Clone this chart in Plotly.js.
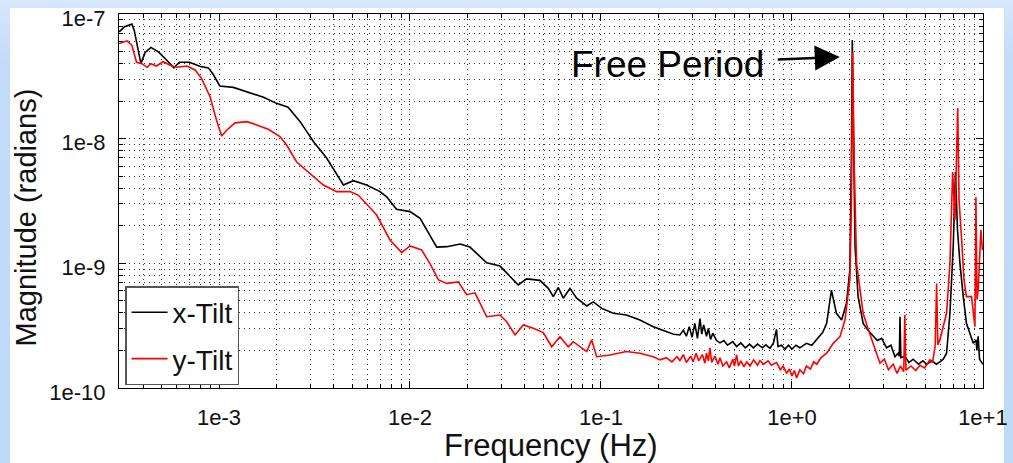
<!DOCTYPE html>
<html>
<head>
<meta charset="utf-8">
<script src="https://cdn.plot.ly/plotly-3.0.1.min.js"></script>
<style>
  html, body { margin:0; padding:0; width:1013px; height:463px; overflow:hidden;
    background: linear-gradient(to bottom, #d6e8fc 0px, #c3dbf9 60px, #bfd9f9 463px); }
  #panel { position:absolute; left:10px; top:8px; width:994px; height:455px; background:#fff; }
  #chart { position:absolute; left:10px; top:0px; width:1003px; height:463px; }
</style>
</head>
<body>
<div id="panel"></div>
<div id="chart"></div>
<script>
// x-Tilt (black)
const xTiltFreq = [3.0e-4,3.2e-4,3.5e-4,3.6e-4,3.9e-4,4.1e-4,4.4e-4,4.8e-4,5.3e-4,5.8e-4,6.2e-4,7.0e-4,8.0e-4,8.8e-4,9.3e-4,
  1.01e-3,1.19e-3,1.40e-3,1.71e-3,2.0e-3,2.3e-3,2.66e-3,3.12e-3,3.66e-3,4.48e-3,5.05e-3,5.93e-3,6.97e-3,7.55e-3,8.5e-3,
  1.0e-2,1.13e-2,1.25e-2,1.38e-2,1.56e-2,1.83e-2,2.06e-2,2.52e-2,2.96e-2,3.41e-2,3.69e-2,4.08e-2,4.79e-2,5.3e-2,5.63e-2,5.98e-2,6.35e-2,6.88e-2,7.46e-2,8.42e-2,9.12e-2,
  1.01e-1,1.16e-1,1.36e-1,1.6e-1,1.88e-1,2.21e-1,2.4e-1,2.59e-1,2.7e-1,2.8e-1,2.9e-1,3.0e-1,3.1e-1,3.2e-1,3.3e-1,3.37e-1,3.45e-1,3.57e-1,3.65e-1,3.75e-1,3.85e-1,4.03e-1,4.2e-1,4.4e-1,4.6e-1,4.9e-1,5.13e-1,5.4e-1,5.7e-1,6.0e-1,6.28e-1,6.6e-1,7.0e-1,7.3e-1,7.67e-1,8.0e-1,8.3e-1,8.45e-1,8.8e-1,9.2e-1,9.6e-1,
  1.0,1.05,1.1,1.19,1.27,1.37,1.45,1.52,1.61,1.71,1.82,1.93,2.01,2.05,2.07,2.10,2.14,2.22,2.36,2.5,2.66,2.8,2.95,3.13,3.3,3.46,3.6,3.65,3.68,3.72,3.9,4.1,4.31,4.6,4.85,5.08,5.4,5.7,5.95,6.2,6.45,6.72,6.99,7.18,7.36,7.58,7.89,8.2,8.9,9.2,9.3,9.44,9.6,9.86,10];
const xTiltMag = [7.2e-8,7.9e-8,8.3e-8,7.4e-8,4.0e-8,4.9e-8,5.4e-8,5.0e-8,4.3e-8,3.7e-8,4.1e-8,4.1e-8,3.8e-8,3.7e-8,3.3e-8,
  2.65e-8,2.58e-8,2.38e-8,2.15e-8,1.92e-8,1.79e-8,1.37e-8,9.5e-9,7.0e-9,4.25e-9,4.6e-9,4.25e-9,3.76e-9,3.42e-9,2.71e-9,
  2.6e-9,2.3e-9,1.74e-9,1.35e-9,1.36e-9,1.43e-9,1.35e-9,1.01e-9,9.5e-10,7.6e-10,6.7e-10,7.5e-10,7.3e-10,6.3e-10,5.4e-10,6.4e-10,5.25e-10,6.3e-10,5.25e-10,4.55e-10,4.9e-10,
  4.35e-10,3.97e-10,3.85e-10,3.51e-10,3.1e-10,2.83e-10,2.7e-10,2.66e-10,2.9e-10,2.6e-10,3.1e-10,2.55e-10,3.3e-10,2.5e-10,3.6e-10,2.7e-10,3.2e-10,2.6e-10,3.0e-10,2.45e-10,2.75e-10,2.4e-10,2.3e-10,2.4e-10,2.2e-10,2.35e-10,2.15e-10,2.3e-10,2.1e-10,2.25e-10,2.1e-10,2.25e-10,2.1e-10,2.22e-10,2.08e-10,2.3e-10,2.95e-10,2.15e-10,2.2e-10,2.05e-10,2.2e-10,
  2.05e-10,2.2e-10,2.1e-10,2.28e-10,2.2e-10,2.5e-10,2.8e-10,3.3e-10,6.1e-10,3.97e-10,3.51e-10,4.78e-10,8.85e-10,8.1e-9,6.2e-8,1.17e-8,1.36e-9,5.4e-10,3.3e-10,2.9e-10,2.6e-10,2.4e-10,2.5e-10,2.1e-10,2.2e-10,1.78e-10,1.9e-10,1.8e-10,3.73e-10,1.75e-10,1.8e-10,1.6e-10,1.7e-10,1.55e-10,1.65e-10,1.55e-10,1.65e-10,1.55e-10,1.62e-10,1.7e-10,1.9e-10,3.97e-10,1.36e-9,5.4e-9,1.85e-9,1.0e-9,5.4e-10,3.3e-10,2.28e-10,2.43e-10,2.0e-10,2.6e-10,1.7e-10,1.58e-10,1.55e-10];

// y-Tilt (red)
const yTiltFreq = [3.0e-4,3.3e-4,3.5e-4,3.7e-4,3.95e-4,4.2e-4,4.4e-4,4.7e-4,5.1e-4,5.65e-4,6.0e-4,6.8e-4,7.5e-4,8.1e-4,9.0e-4,9.7e-4,
  1.033e-3,1.097e-3,1.213e-3,1.40e-3,1.575e-3,1.81e-3,2.085e-3,2.26e-3,2.55e-3,2.99e-3,3.52e-3,4.13e-3,4.85e-3,5.36e-3,6.17e-3,6.69e-3,7.86e-3,9.05e-3,
  1.0e-2,1.15e-2,1.27e-2,1.41e-2,1.56e-2,1.79e-2,1.98e-2,2.19e-2,2.52e-2,2.96e-2,3.21e-2,3.55e-2,3.92e-2,4.42e-2,4.99e-2,5.52e-2,6.1e-2,6.74e-2,7.16e-2,8.42e-2,8.94e-2,9.5e-2,
  1.115e-1,1.36e-1,1.6e-1,1.88e-1,2.04e-1,2.2e-1,2.35e-1,2.5e-1,2.59e-1,2.7e-1,2.8e-1,2.95e-1,3.04e-1,3.15e-1,3.25e-1,3.4e-1,3.5e-1,3.57e-1,3.65e-1,3.72e-1,3.8e-1,3.95e-1,4.1e-1,4.2e-1,4.35e-1,4.55e-1,4.7e-1,4.9e-1,5.0e-1,5.13e-1,5.25e-1,5.4e-1,5.6e-1,5.8e-1,6.03e-1,6.3e-1,6.6e-1,6.8e-1,7.1e-1,7.5e-1,7.8e-1,8.3e-1,8.7e-1,9.0e-1,9.38e-1,9.7e-1,
  1.0,1.03,1.058,1.1,1.15,1.19,1.25,1.3,1.35,1.42,1.52,1.645,1.785,1.895,2.01,2.05,2.08,2.11,2.18,2.36,2.5,2.66,2.75,2.89,3.05,3.2,3.39,3.55,3.7,3.85,3.9,3.95,4.2,4.45,4.68,4.95,5.28,5.45,5.63,5.72,5.81,5.95,6.45,6.72,6.94,7.14,7.38,7.5,7.74,7.96,8.2,8.72,9.08,9.19,9.31,9.44,9.76,9.94];
const yTiltMag = [5.8e-8,6.1e-8,5.6e-8,4.1e-8,4.0e-8,3.74e-8,4.0e-8,3.83e-8,4.14e-8,3.83e-8,3.74e-8,3.83e-8,3.56e-8,3.05e-8,2.15e-8,1.41e-8,
  1.05e-8,1.17e-8,1.34e-8,1.37e-8,1.29e-8,1.19e-8,1.04e-8,8.9e-9,6.5e-9,5.3e-9,4.25e-9,3.76e-9,3.76e-9,3.53e-9,2.76e-9,2.44e-9,1.54e-9,1.22e-9,
  1.38e-9,1.28e-9,1.0e-9,7.35e-10,6.9e-10,7.1e-10,5.6e-10,5.8e-10,3.73e-10,3.85e-10,3.4e-10,2.66e-10,3.2e-10,3.01e-10,2.78e-10,2.14e-10,2.58e-10,2.14e-10,2.35e-10,1.96e-10,2.43e-10,1.78e-10,
  1.84e-10,1.96e-10,1.9e-10,1.78e-10,1.68e-10,1.75e-10,1.62e-10,1.78e-10,1.66e-10,1.85e-10,1.6e-10,1.8e-10,1.62e-10,1.9e-10,1.65e-10,1.85e-10,1.58e-10,1.9e-10,1.65e-10,2.1e-10,1.6e-10,1.8e-10,1.55e-10,1.75e-10,1.5e-10,1.62e-10,1.45e-10,1.7e-10,1.5e-10,1.84e-10,1.5e-10,1.65e-10,1.48e-10,1.62e-10,1.5e-10,1.68e-10,1.52e-10,1.66e-10,1.55e-10,1.65e-10,1.52e-10,1.6e-10,1.4e-10,1.5e-10,1.31e-10,1.42e-10,
  1.25e-10,1.38e-10,1.2e-10,1.4e-10,1.3e-10,1.5e-10,1.42e-10,1.62e-10,1.55e-10,1.75e-10,1.9e-10,2.28e-10,2.58e-10,3.51e-10,7.35e-10,3.2e-9,4.95e-8,8.1e-9,1.0e-9,3.97e-10,3.0e-10,2.28e-10,1.9e-10,1.58e-10,1.7e-10,1.4e-10,1.55e-10,1.31e-10,1.5e-10,1.35e-10,3.85e-10,1.39e-10,1.5e-10,1.38e-10,1.52e-10,1.45e-10,1.68e-10,1.6e-10,2.21e-10,6.9e-10,2.21e-10,2.43e-10,3.97e-10,1.0e-9,5.4e-9,2.23e-9,1.76e-8,3.2e-9,1.54e-9,7.35e-10,5.4e-10,5.4e-10,3.1e-10,3.4e-9,5.1e-10,6.1e-10,1.85e-9,1.28e-9];

const xTickVals = [1e-3,1e-2,1e-1,1,10];
const xTickText = ['1e-3','1e-2','1e-1','1e+0','1e+1'];
const yTickVals = [1e-10,1e-9,1e-8,1e-7];
const yTickText = ['1e-10','1e-9','1e-8','1e-7'];
const seriesNames = ['x-Tilt','y-Tilt'];
const xTitle = 'Frequency (Hz)';
const yTitle = 'Magnitude (radians)';
const annotationText = 'Free Period';

function minorVals(d0, d1) {
  const out = [];
  for (let d = d0; d <= d1; d++) for (let m = 2; m <= 9; m++) out.push(m * Math.pow(10, d));
  return out;
}

const FONT = '"Liberation Sans", Arial, Helvetica, sans-serif';
const gridDash = '1px,4px';
const gridColor = '#333';

const data = [
  {x: xTiltFreq, y: xTiltMag, type:'scatter', mode:'lines', name: seriesNames[0],
   legendgroup:'a', line:{color:'#000000', width:1.6}},
  {x: yTiltFreq, y: yTiltMag, type:'scatter', mode:'lines', name: seriesNames[1],
   legendgroup:'b', line:{color:'#ff0000', width:1.6}}
];

const axisCommon = {
  showline:true, linecolor:'#000', linewidth:1, mirror:'ticks',
  ticks:'inside', ticklen:7, tickcolor:'#000', tickwidth:1,
  showgrid:true, gridcolor:gridColor, gridwidth:1, griddash:gridDash,
  zeroline:false, tickmode:'array', ticklabeloverflow:'allow',
  tickfont:{family:FONT, size:22, color:'#111'}
};

const layout = {
  width:1003, height:463,
  margin:{l:109, r:30, t:14, b:75},
  paper_bgcolor:'rgba(0,0,0,0)', plot_bgcolor:'#ffffff',
  font:{family:FONT, color:'#000'},
  showlegend:true,
  xaxis: Object.assign({}, axisCommon, {
    type:'log', range:[-3.5236, 1.0004],
    tickvals:xTickVals, ticktext:xTickText, ticklabelstandoff:10,
    minor:{tickmode:'array', tickvals:minorVals(-4,0), ticks:'inside', ticklen:4, tickcolor:'#000',
      showgrid:true, gridcolor:gridColor, gridwidth:1, griddash:gridDash}
  }),
  yaxis: Object.assign({}, axisCommon, {
    type:'log', range:[-10.0004, -6.9996],
    tickvals:yTickVals, ticktext:yTickText, ticklabelstandoff:8, ticklabelshift:4,
    minor:{tickmode:'array', tickvals:minorVals(-10,-8), ticks:'inside', ticklen:4, tickcolor:'#000',
      showgrid:true, gridcolor:gridColor, gridwidth:1, griddash:gridDash}
  }),
  legend:{x:0.007, y:0.008, xanchor:'left', yanchor:'bottom',
    bgcolor:'#ffffff', bordercolor:'#555', borderwidth:1.5,
    font:{family:FONT, size:28, color:'#111'},
    traceorder:'grouped', tracegroupgap:7, itemwidth:36},
  annotations:[
    {x:Math.log10(1.78), y:Math.log10(4.52e-8), xref:'x', yref:'y',
     text:annotationText, showarrow:true, arrowhead:2, arrowsize:2, arrowwidth:2.5,
     arrowcolor:'#000', ax:-172, ay:7, startstandoff:12,
     font:{family:FONT, size:37, color:'#000'}},
    {x:0.5, y:-0.155, xref:'paper', yref:'paper', xanchor:'center', yanchor:'middle',
     text:xTitle, showarrow:false, font:{family:FONT, size:31, color:'#111'}},
    {x:-0.108, y:0.455, xref:'paper', yref:'paper', xanchor:'center', yanchor:'middle',
     text:yTitle, textangle:-90, showarrow:false, font:{family:FONT, size:29, color:'#111'}}
  ]
};

Plotly.newPlot('chart', data, layout, {displayModeBar:false, staticPlot:true});
</script>
</body>
</html>
